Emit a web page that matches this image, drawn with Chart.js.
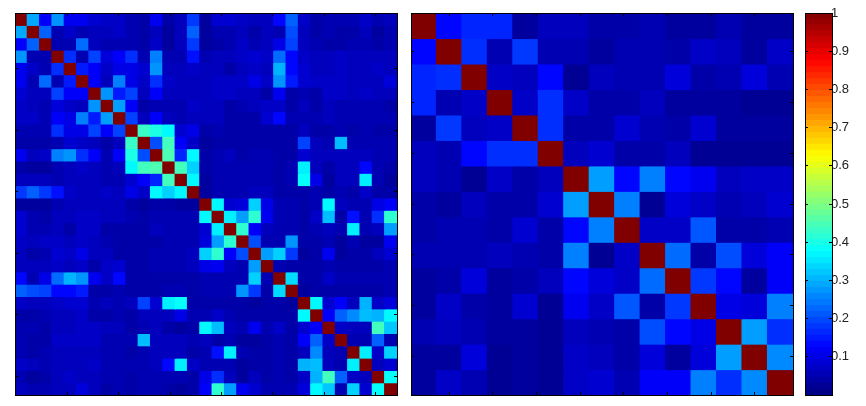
<!DOCTYPE html>
<html>
<head>
<meta charset="utf-8">
<script src="https://cdn.jsdelivr.net/npm/chart.js@4"></script>
<style>
html,body{margin:0;padding:0;background:#fff;width:866px;height:406px;overflow:hidden}
canvas{position:absolute;top:0}
</style>
</head>
<body>
<canvas id="left" width="403" height="406" style="left:0;width:403px;height:406px"></canvas>
<canvas id="right" width="394" height="406" style="left:405px;width:394px;height:406px"></canvas>
<canvas id="bar" width="66" height="406" style="left:800px;width:66px;height:406px"></canvas>
<script>
// Upper triangles in percent: row i lists columns i+1 ... n-1. Diagonal is 100.
const leftUpper = [
[29,12,27,11,11,8,7,7,5,4,11,4,6,18,3,8,8,7,6,6,13,22,7,4,5,5,5,7,5,6],
[22,5,7,5,6,6,7,5,4,6,3,6,22,3,5,5,6,4,6,5,20,6,4,5,4,4,6,3,5],
[5,5,23,6,5,5,5,4,7,3,6,18,3,4,5,7,5,6,10,19,6,5,4,4,5,5,4,5],
[17,5,19,9,12,17,5,25,5,5,14,5,6,6,7,8,7,23,13,7,6,6,7,6,6,6,6],
[15,12,7,10,10,8,27,6,6,7,6,6,4,6,7,6,30,13,8,6,6,7,6,6,7,6],
[12,6,25,10,7,17,7,6,6,6,7,7,7,10,7,27,15,8,7,7,7,6,6,6,9],
[27,15,19,6,12,6,6,6,6,7,7,6,6,4,11,4,5,4,7,7,6,7,6,6],
[28,12,4,5,5,5,7,6,6,4,5,6,7,7,4,6,4,6,5,5,5,5,4],
[19,6,12,6,5,6,6,6,4,4,4,8,13,5,5,5,6,5,5,5,5,5],
[43,40,37,8,10,4,5,4,4,4,4,4,4,6,4,4,5,4,5,4,4],
[20,44,12,7,3,4,4,4,4,4,4,4,19,6,5,31,5,5,5,5],
[45,16,37,4,5,6,4,5,5,4,4,8,6,6,6,6,6,5,5],
[44,33,4,5,5,5,5,5,4,5,36,6,4,6,6,13,5,4],
[37,3,5,5,5,5,5,4,5,38,10,3,6,6,36,5,3],
[3,5,5,5,6,6,4,4,4,5,4,5,4,7,4,4],
[37,8,9,33,10,5,5,4,5,37,6,5,5,10,12],
[36,28,42,11,5,5,4,7,31,4,14,5,17,42],
[42,12,6,5,5,4,5,6,5,36,5,6,28],
[20,5,5,27,4,4,5,3,5,3,3,11],
[28,33,18,3,4,11,3,4,4,6,8],
[5,4,4,4,5,4,4,4,4,5],
[34,4,4,7,5,5,5,5,5],
[3,4,4,4,4,4,4,5],
[37,8,12,6,30,7,9],
[12,22,26,31,30,37],
[7,6,6,44,32],
[5,5,22,5],
[36,7,33],
[6,8],
[38],
[]
];
const rightUpper = [
[13,16,16,3,6,6,4,4,5,3,3,5,3,3],
[17,5,18,5,5,3,5,5,4,7,6,3,7],
[7,6,13,2,6,5,5,9,4,5,9,5],
[7,17,7,4,4,6,3,3,3,2,2],
[17,4,4,8,5,4,8,3,3,3],
[6,8,4,4,6,2,2,2,2],
[28,13,25,13,11,6,7,7],
[25,2,9,7,5,6,8],
[7,7,21,4,4,5],
[23,4,20,9,12],
[18,13,3,12],
[10,9,25],
[28,17],
[26],
[]
];
const leftTicks = [5,10,15,20,25,30];
const rightTicks = [2,4,6,8,10,12,14];
const barTicks = [0.1,0.2,0.3,0.4,0.5,0.6,0.7,0.8,0.9,1];
const barLevels = 64;

function jet(v){
  const c = x => Math.round(255*Math.max(0,Math.min(1,x)));
  return `rgb(${c(Math.min(4*v-1.5,-4*v+4.5))},${c(Math.min(4*v-0.5,-4*v+3.5))},${c(Math.min(4*v+0.5,-4*v+2.5))})`;
}
function fullMatrix(upper){
  const n = upper.length, m = [];
  for(let i=0;i<n;i++){ m.push(new Array(n).fill(100)); }
  upper.forEach((row,i)=>row.forEach((v,k)=>{ m[i][i+1+k]=v; m[i+1+k][i]=v; }));
  return m;
}
function edgeAxis(position,min,max,tickVals,extra){
  const horizontal = position==='top'||position==='bottom';
  return Object.assign({
    type:'linear',position,min,max,
    axis: horizontal?'x':'y',
    grid:{drawOnChartArea:false,drawTicks:true,tickLength:-3,tickColor:'#000',tickWidth:1,z:1},
    border:{display:true,color:'#000',width:1,z:1},
    ticks:{display:false,autoSkip:false},
    afterBuildTicks:s=>{s.ticks=tickVals.map(value=>({value}));},
    afterFit:s=>{ if(horizontal){s.height=0;}else{s.width=0;} }
  },extra||{});
}
const noExtras = {
  animation:false,responsive:false,devicePixelRatio:1,
  plugins:{legend:{display:false},tooltip:{enabled:false},title:{display:false}},
  events:[]
};
function heatmap(id,upper,ticks,pad){
  const m = fullMatrix(upper), n = m.length;
  const labels = m.map((_,i)=>String(i+1));
  const datasets = m.map(row=>({
    data: row.map(()=>1),
    backgroundColor: row.map(v=>jet(v/100)),
    borderWidth:0,inflateAmount:0.6,barPercentage:1,categoryPercentage:1,
    xAxisID:'x',yAxisID:'y'
  }));
  const pos = ticks.map(t=>t-0.5);
  new Chart(document.getElementById(id),{
    type:'bar',
    data:{labels,datasets},
    options:Object.assign({},noExtras,{
      layout:{padding:pad},
      scales:{
        x:{type:'category',display:false,stacked:true,offset:true},
        y:edgeAxis('left',0,n,pos,{stacked:true,reverse:true}),
        xb:edgeAxis('bottom',0,n,pos),
        xt:edgeAxis('top',0,n,pos),
        yr:edgeAxis('right',0,n,pos,{reverse:true})
      }
    })
  });
}
heatmap('left',leftUpper,leftTicks,{left:15,top:13,right:6,bottom:11});
heatmap('right',rightUpper,rightTicks,{left:6,top:13,right:6,bottom:11});

const levelValues = [];
for(let i=0;i<barLevels;i++){ levelValues.push((i+0.5)/barLevels); }
new Chart(document.getElementById('bar'),{
  type:'bar',
  data:{labels:['c'],datasets:levelValues.map(v=>({
    data:[1/barLevels],backgroundColor:jet(v),borderWidth:0,inflateAmount:0.5,barPercentage:1,categoryPercentage:1,xAxisID:'x',yAxisID:'y'
  }))},
  options:Object.assign({},noExtras,{
    layout:{padding:{left:5,top:13,right:0,bottom:11}},
    scales:{
      x:{type:'category',display:false,stacked:true,offset:true},
      y:edgeAxis('right',0,1,barTicks,{
        stacked:true,
        ticks:{display:true,autoSkip:false,color:'#222',padding:2,font:{family:'"Liberation Sans"',size:13},maxRotation:0,
          callback:v=>String(Math.round(v*10)/10)},
        afterFit:s=>{s.width=34;}
      }),
      yl:edgeAxis('left',0,1,barTicks),
      xb:edgeAxis('bottom',0,1,[]),
      xt:edgeAxis('top',0,1,[])
    }
  })
});
</script>
</body>
</html>
